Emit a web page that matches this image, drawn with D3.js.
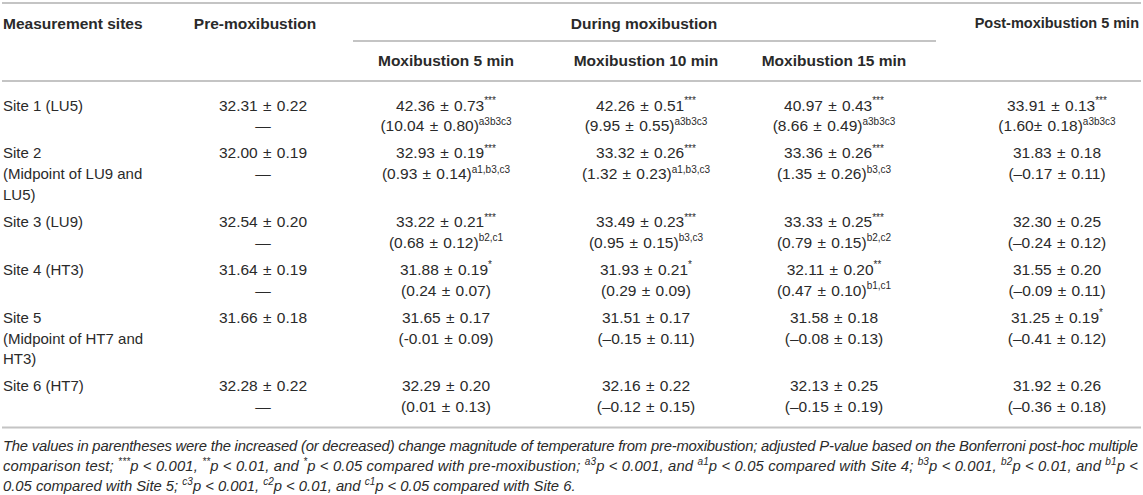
<!DOCTYPE html>
<html>
<head>
<meta charset="utf-8">
<script src="https://cdn.jsdelivr.net/npm/d3@7"></script>
<style>
  body { margin: 0; background: #fff; }
  svg { display: block; font-family: "Liberation Sans", Arial, Helvetica, sans-serif; }
</style>
</head>
<body>
<svg id="table" width="1143" height="495"></svg>
<script>
// Table content
const columns = ['pre', 'm5', 'm10', 'm15', 'post'];
const columnTitles = ['Pre-moxibustion', 'Moxibustion 5 min', 'Moxibustion 10 min', 'Moxibustion 15 min', 'Post-moxibustion 5 min'];
const groupTitle = 'During moxibustion';
const siteTitle = 'Measurement sites';

const sites = [
    ['Site 1 (LU5)'],
    ['Site 2', '(Midpoint of LU9 and', 'LU5)'],
    ['Site 3 (LU9)'],
    ['Site 4 (HT3)'],
    ['Site 5', '(Midpoint of HT7 and', 'HT3)'],
    ['Site 6 (HT7)']
];

const preTemp = ['32.31 ± 0.22', '32.00 ± 0.19', '32.54 ± 0.20', '31.64 ± 0.19', '31.66 ± 0.18', '32.28 ± 0.22'];
const preStars = ['', '', '', '', '', ''];
const preChange = ['—', '—', '—', '—', '', '—'];
const preSup = ['', '', '', '', '', ''];

const m5Temp = ['42.36 ± 0.73', '32.93 ± 0.19', '33.22 ± 0.21', '31.88 ± 0.19', '31.65 ± 0.17', '32.29 ± 0.20'];
const m5Stars = ['***', '***', '***', '*', '', ''];
const m5Change = ['(10.04 ± 0.80)', '(0.93 ± 0.14)', '(0.68 ± 0.12)', '(0.24 ± 0.07)', '(-0.01 ± 0.09)', '(0.01 ± 0.13)'];
const m5Sup = ['a3b3c3', 'a1,b3,c3', 'b2,c1', '', '', ''];

const m10Temp = ['42.26 ± 0.51', '33.32 ± 0.26', '33.49 ± 0.23', '31.93 ± 0.21', '31.51 ± 0.17', '32.16 ± 0.22'];
const m10Stars = ['***', '***', '***', '*', '', ''];
const m10Change = ['(9.95 ± 0.55)', '(1.32 ± 0.23)', '(0.95 ± 0.15)', '(0.29 ± 0.09)', '(–0.15 ± 0.11)', '(–0.12 ± 0.15)'];
const m10Sup = ['a3b3c3', 'a1,b3,c3', 'b3,c3', '', '', ''];

const m15Temp = ['40.97 ± 0.43', '33.36 ± 0.26', '33.33 ± 0.25', '32.11 ± 0.20', '31.58 ± 0.18', '32.13 ± 0.25'];
const m15Stars = ['***', '***', '***', '**', '', ''];
const m15Change = ['(8.66 ± 0.49)', '(1.35 ± 0.26)', '(0.79 ± 0.15)', '(0.47 ± 0.10)', '(–0.08 ± 0.13)', '(–0.15 ± 0.19)'];
const m15Sup = ['a3b3c3', 'b3,c3', 'b2,c2', 'b1,c1', '', ''];

const postTemp = ['33.91 ± 0.13', '31.83 ± 0.18', '32.30 ± 0.25', '31.55 ± 0.20', '31.25 ± 0.19', '31.92 ± 0.26'];
const postStars = ['***', '', '', '', '*', ''];
const postChange = ['(1.60± 0.18)', '(–0.17 ± 0.11)', '(–0.24 ± 0.12)', '(–0.09 ± 0.11)', '(–0.41 ± 0.12)', '(–0.36 ± 0.18)'];
const postSup = ['a3b3c3', '', '', '', '', ''];

const footnotes = [
    'The values in parentheses were the increased (or decreased) change magnitude of temperature from pre-moxibustion; adjusted P-value based on the Bonferroni post-hoc multiple',
    'comparison test; ^{***}p < 0.001, ^{**}p < 0.01, and ^{*}p < 0.05 compared with pre-moxibustion; ^{a3}p < 0.001, and ^{a1}p < 0.05 compared with Site 4; ^{b3}p < 0.001, ^{b2}p < 0.01, and ^{b1}p <',
    '0.05 compared with Site 5; ^{c3}p < 0.001, ^{c2}p < 0.01, and ^{c1}p < 0.05 compared with Site 6.'
];

// Layout
const W = 1143;
const textColor = '#2a2a2a';
const ruleColor = '#c4c4c4';
const lineH = 20.7;
const rowPad = 6.5;
const firstLineY = 105;

const cells = {
    pre: [preTemp, preStars, preChange, preSup],
    m5: [m5Temp, m5Stars, m5Change, m5Sup],
    m10: [m10Temp, m10Stars, m10Change, m10Sup],
    m15: [m15Temp, m15Stars, m15Change, m15Sup],
    post: [postTemp, postStars, postChange, postSup]
};

const x = d3.scaleOrdinal()
    .domain(columns)
    .range([263, 446, 646, 834, 1057]);

const rowLines = sites.map(s => Math.max(s.length, 2));
const rowTops = rowLines.map((n, i) => firstLineY + d3.sum(rowLines.slice(0, i)) * lineH + i * rowPad);

const svg = d3.select('#table');
svg.append('rect').attr('width', W).attr('height', 495).attr('fill', '#fff');

function rule(y, x1, x2) {
    svg.append('line')
        .attr('x1', x1).attr('x2', x2)
        .attr('y1', y).attr('y2', y)
        .attr('stroke', ruleColor)
        .attr('stroke-width', 2);
}

// Add a text with an optional superscript at the end
function cellText(cx, y, main, sup) {
    const t = svg.append('text')
        .attr('x', cx).attr('y', y)
        .attr('text-anchor', 'middle')
        .attr('dominant-baseline', 'central')
        .attr('font-size', 15.5)
        .attr('word-spacing', 1)
        .attr('fill', textColor)
        .text(main);
    if (sup) {
        t.append('tspan')
            .attr('font-size', 10)
            .attr('dy', -5)
            .attr('word-spacing', 0)
            .text(sup);
    }
}

function header(tx, ty, label, anchor, size) {
    return svg.append('text')
        .attr('x', tx).attr('y', ty)
        .attr('text-anchor', anchor)
        .attr('dominant-baseline', 'central')
        .attr('font-size', size || 15.5).attr('font-weight', 'bold')
        .attr('fill', textColor)
        .text(label);
}

// Header
rule(3, 2, W - 2);
header(3, 23, siteTitle, 'start');
header(x('pre') - 8, 23, columnTitles[0], 'middle');
header(644, 23, groupTitle, 'middle');
header(1139, 23, columnTitles[4], 'end', 14.5);

rule(41, 353, 936);

['m5', 'm10', 'm15'].forEach((c, i) => {
    header(x(c), 60, columnTitles[i + 1], 'middle');
});

rule(81, 2, W - 2);

// Body rows
sites.forEach((lines, r) => {
    lines.forEach((ln, k) => {
        svg.append('text')
            .attr('x', 3).attr('y', rowTops[r] + k * lineH)
            .attr('dominant-baseline', 'central')
            .attr('font-size', 15)
            .attr('fill', textColor)
            .text(ln);
    });
    columns.forEach(c => {
        const [temp, stars, change, sup] = cells[c];
        cellText(x(c), rowTops[r], temp[r], stars[r]);
        if (change[r]) cellText(x(c), rowTops[r] + lineH, change[r], sup[r]);
    });
});

const lastY = rowTops[rowTops.length - 1] + (rowLines[rowLines.length - 1] - 1) * lineH;
const bottomRule = lastY + 21;
rule(bottomRule, 2, W - 2);

// Footnotes
footnotes.forEach((note, i) => {
    const t = svg.append('text')
        .attr('x', 3).attr('y', bottomRule + 18 + i * 20)
        .attr('dominant-baseline', 'central')
        .attr('font-size', 14.8).attr('font-style', 'italic')
        .attr('fill', textColor);
    if (i < footnotes.length - 1) {
        t.attr('textLength', 1135).attr('lengthAdjust', 'spacing');
    }
    const parts = note.split(/\^\{([^}]*)\}/);
    parts.forEach((p, j) => {
        if (!p) return;
        if (j % 2 === 1) {
            t.append('tspan').attr('font-size', 10).attr('dy', -5).text(p);
        } else {
            t.append('tspan').attr('dy', j > 0 ? 5 : 0).text(p);
        }
    });
});
</script>
</body>
</html>
